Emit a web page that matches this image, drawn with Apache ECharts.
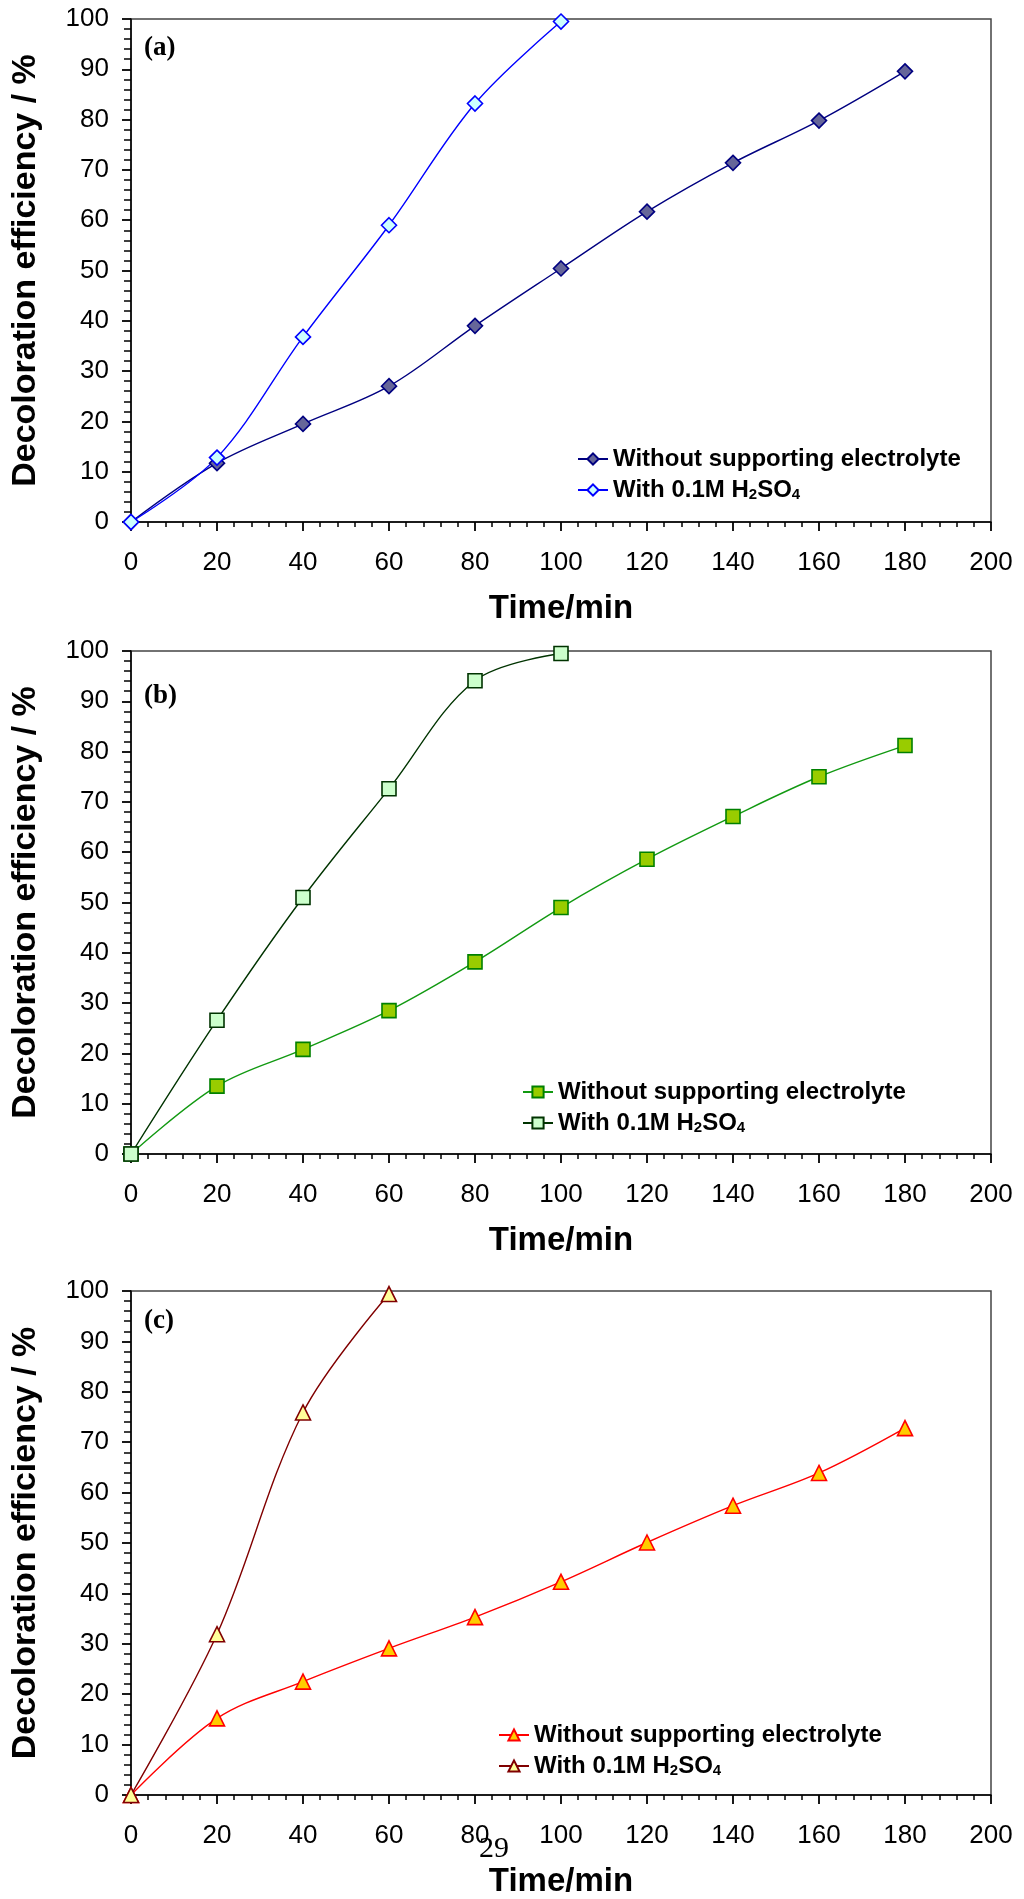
<!DOCTYPE html>
<html>
<head>
<meta charset="utf-8">
<script src="https://cdn.jsdelivr.net/npm/echarts@6/dist/echarts.min.js"></script>
<style>
  html, body { margin: 0; padding: 0; background: #fff; }
  #chart { width: 1024px; height: 1899px; }
</style>
</head>
<body>
<div id="chart"></div>
<script>
// time points (min)
const timeFull = [0, 20, 40, 60, 80, 100, 120, 140, 160, 180]
const timeA = [0, 20, 40, 60, 80, 100]
const timeB = [0, 20, 40, 60, 80, 100]
const timeC = [0, 20, 40, 60]

// decoloration efficiency (%)
const withoutA = [0, 11.7, 19.5, 27.0, 39.0, 50.4, 61.7, 71.4, 79.8, 89.6]
const withA = [0, 12.8, 36.8, 59.0, 83.2, 99.5]
const withoutB = [0, 13.5, 20.8, 28.5, 38.2, 49.0, 58.6, 67.1, 75.0, 81.2]
const withB = [0, 26.6, 51.0, 72.6, 94.1, 99.5]
const withoutC = [0, 15.2, 22.5, 29.1, 35.3, 42.3, 50.1, 57.4, 63.9, 72.8]
const withC = [0, 31.9, 75.9, 99.4]

const legendNames = {
  aWithout: 'Without supporting electrolyte',
  aWith: 'With 0.1M H{sub|2}SO{sub|4}',
  bWithout: 'Without supporting electrolyte',
  bWith: 'With 0.1M H{sub|2}SO{sub|4}',
  cWithout: 'Without supporting electrolyte',
  cWith: 'With 0.1M H{sub|2}SO{sub|4}'
}

const sansFont = 'Arial, "Liberation Sans", sans-serif'
const serifFont = '"Times New Roman", "Liberation Serif", serif'
const panelTops = [19, 651, 1291]
const panelHeights = [503, 503, 504]
const tickColor = '#000'

function pairs(xs, ys) {
  return xs.map((x, i) => [x, ys[i]])
}

function makeX(i) {
  return {
    type: 'value', gridIndex: i, min: 0, max: 200, interval: 20,
    name: 'Time/min', nameLocation: 'middle', nameGap: 70,
    nameTextStyle: { fontFamily: sansFont, fontWeight: 'bold', fontSize: 33, color: '#000' },
    axisLine: { show: true, onZero: false, lineStyle: { color: '#000', width: 1.5 } },
    axisTick: { show: true, length: 9, lineStyle: { color: tickColor, width: 1.8 } },
    minorTick: { show: true, splitNumber: 5, length: 5, lineStyle: { color: tickColor, width: 1.5 } },
    axisLabel: { fontFamily: sansFont, fontSize: 26, color: '#000', margin: 28 },
    splitLine: { show: false },
    minorSplitLine: { show: false }
  }
}

function makeY(i) {
  return {
    type: 'value', gridIndex: i, min: 0, max: 100, interval: 10,
    name: 'Decoloration efficiency / %', nameLocation: 'middle', nameGap: 88,
    nameTextStyle: { fontFamily: sansFont, fontWeight: 'bold', fontSize: 34, color: '#000' },
    axisLine: { show: true, onZero: false, lineStyle: { color: '#000', width: 1.5 } },
    axisTick: { show: true, length: 9, lineStyle: { color: tickColor, width: 1.8 } },
    minorTick: { show: true, splitNumber: 5, length: 7, lineStyle: { color: tickColor, width: 1.5 } },
    axisLabel: { fontFamily: sansFont, fontSize: 26, color: '#000', margin: 22 },
    splitLine: { show: false },
    minorSplitLine: { show: false }
  }
}

function makeSeries(name, idx, data, symbol, size, fill, border, line) {
  return {
    name: name, type: 'line', xAxisIndex: idx, yAxisIndex: idx,
    data: data, smooth: 0.35, symbol: symbol, symbolSize: size,
    showAllSymbol: true, clip: false,
    lineStyle: { color: line, width: 1.4 },
    itemStyle: { color: fill, borderColor: border, borderWidth: 1.6 },
    emphasis: { disabled: true },
    animation: false
  }
}

function makeLegend(names, left, top) {
  return {
    data: names, orient: 'vertical', left: left, top: top,
    itemWidth: 30, itemHeight: 14, itemGap: 7,
    selectedMode: false,
    formatter: n => legendNames[n],
    textStyle: {
      fontFamily: sansFont, fontWeight: 'bold', fontSize: 24, color: '#000',
      rich: {
        sub: { fontFamily: sansFont, fontWeight: 'bold', fontSize: 15, color: '#000', verticalAlign: 'bottom', padding: [10, 0, 0, 0] }
      }
    }
  }
}

const chart = echarts.init(document.getElementById('chart'))

chart.setOption({
  backgroundColor: '#fff',
  animation: false,
  grid: [0, 1, 2].map(i => ({
    left: 131, width: 860, top: panelTops[i], height: panelHeights[i],
    show: true, borderColor: '#444', borderWidth: 1.5
  })),
  xAxis: [makeX(0), makeX(1), makeX(2)],
  yAxis: [makeY(0), makeY(1), makeY(2)],
  legend: [
    makeLegend(['aWithout', 'aWith'], 572, 442),
    makeLegend(['bWithout', 'bWith'], 517, 1075),
    makeLegend(['cWithout', 'cWith'], 493, 1718)
  ],
  series: [
    makeSeries('aWithout', 0, pairs(timeFull, withoutA), 'diamond', 15, '#666699', '#000080', '#000080'),
    makeSeries('aWith', 0, pairs(timeA, withA), 'diamond', 15, '#CCFFFF', '#0000FF', '#0000FF'),
    makeSeries('bWithout', 1, pairs(timeFull, withoutB), 'rect', 14, '#99CC00', '#008000', '#119911'),
    makeSeries('bWith', 1, pairs(timeB, withB), 'rect', 14, '#CCFFCC', '#003300', '#003300'),
    makeSeries('cWithout', 2, pairs(timeFull, withoutC), 'triangle', 15, '#FFCC00', '#FF0000', '#FF0000'),
    makeSeries('cWith', 2, pairs(timeC, withC), 'triangle', 15, '#FFFF99', '#800000', '#800000')
  ],
  graphic: [
    { type: 'text', left: 144, top: 35, style: { text: '(a)', font: 'bold 27px ' + serifFont, fill: '#000' } },
    { type: 'text', left: 144, top: 683, style: { text: '(b)', font: 'bold 27px ' + serifFont, fill: '#000' } },
    { type: 'text', left: 144, top: 1308, style: { text: '(c)', font: 'bold 27px ' + serifFont, fill: '#000' } },
    { type: 'text', left: 479, top: 1834, style: { text: '29', font: '30px ' + serifFont, fill: '#000' } }
  ]
})
</script>
</body>
</html>
